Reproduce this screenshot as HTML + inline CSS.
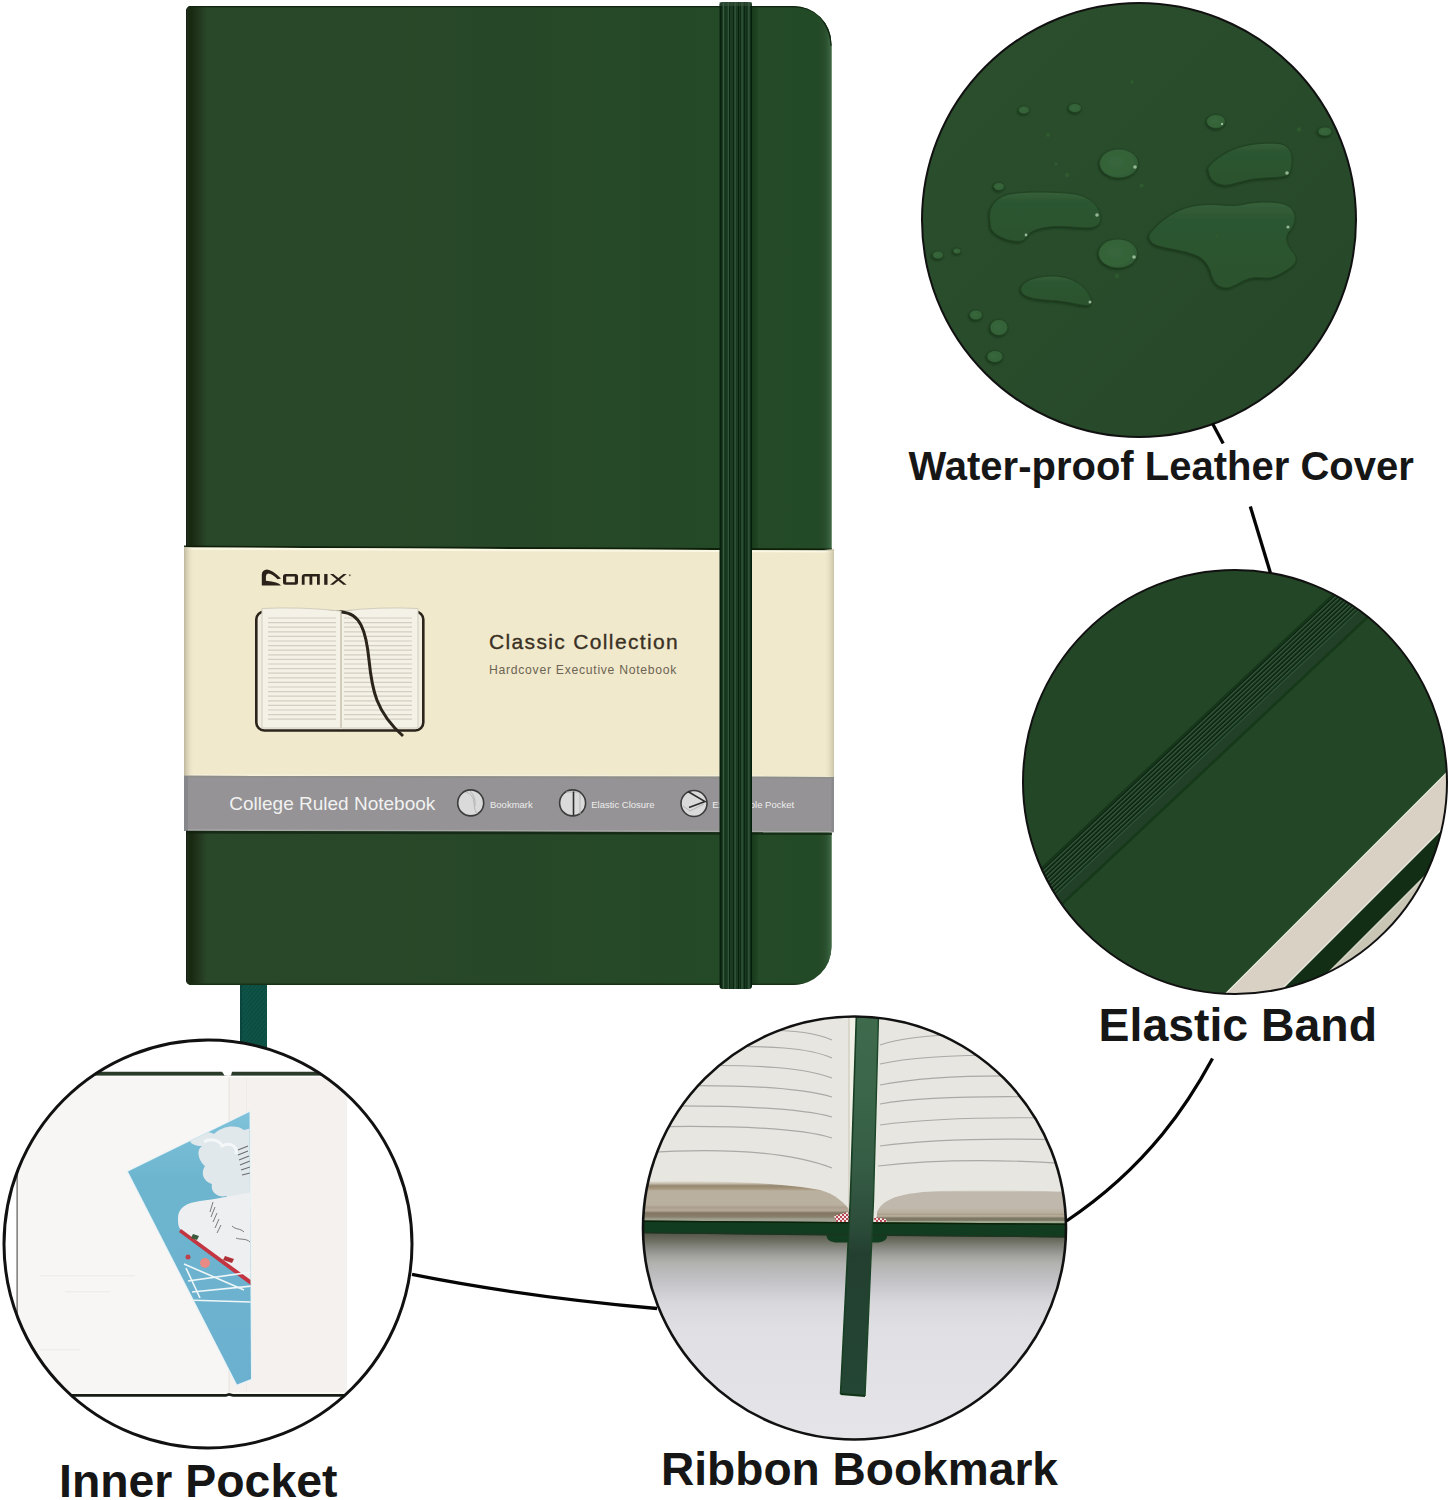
<!DOCTYPE html>
<html><head><meta charset="utf-8">
<style>
html,body{margin:0;padding:0;background:#fff;}
body{width:1452px;height:1500px;overflow:hidden;position:relative;font-family:"Liberation Sans",sans-serif;}
svg{position:absolute;left:0;top:0;}
.lbl{position:absolute;font-family:"Liberation Sans",sans-serif;font-weight:bold;color:#161616;white-space:nowrap;line-height:1;}
</style></head>
<body>
<svg width="1452" height="1500" viewBox="0 0 1452 1500" font-family="Liberation Sans, sans-serif">
<defs>
  <linearGradient id="spine" x1="186" x2="209" y1="0" y2="0" gradientUnits="userSpaceOnUse">
    <stop offset="0" stop-color="#0d180a"/>
    <stop offset="0.06" stop-color="#222d1e"/>
    <stop offset="0.14" stop-color="#1a2b13"/>
    <stop offset="0.22" stop-color="#172a10"/>
    <stop offset="0.4" stop-color="#1f2f18"/>
    <stop offset="0.7" stop-color="#253d23"/>
    <stop offset="1" stop-color="#294729" stop-opacity="0"/>
  </linearGradient>
  <linearGradient id="rEdge" x1="818" x2="832" y1="0" y2="0" gradientUnits="userSpaceOnUse">
    <stop offset="0" stop-color="#284728" stop-opacity="0"/>
    <stop offset="0.6" stop-color="#2e5534"/>
    <stop offset="1" stop-color="#4a7550"/>
  </linearGradient>
  <linearGradient id="band" x1="719.5" x2="752" y1="0" y2="0" gradientUnits="userSpaceOnUse">
    <stop offset="0.0000" stop-color="#0c2412"/>
    <stop offset="0.0462" stop-color="#061c0c"/>
    <stop offset="0.0831" stop-color="#18371f"/>
    <stop offset="0.0862" stop-color="#1a3b22"/>
    <stop offset="0.0985" stop-color="#1a3b22"/>
    <stop offset="0.1262" stop-color="#3d6246"/>
    <stop offset="0.1538" stop-color="#1a3b22"/>
    <stop offset="0.1815" stop-color="#1a3b22"/>
    <stop offset="0.2000" stop-color="#06200c"/>
    <stop offset="0.2185" stop-color="#1a3b22"/>
    <stop offset="0.2431" stop-color="#1a3b22"/>
    <stop offset="0.2708" stop-color="#3d6246"/>
    <stop offset="0.2923" stop-color="#1a3b22"/>
    <stop offset="0.2985" stop-color="#1a3b22"/>
    <stop offset="0.3108" stop-color="#06200c"/>
    <stop offset="0.3292" stop-color="#1a3b22"/>
    <stop offset="0.4092" stop-color="#1a3b22"/>
    <stop offset="0.4277" stop-color="#06200c"/>
    <stop offset="0.4462" stop-color="#1a3b22"/>
    <stop offset="0.4523" stop-color="#1a3b22"/>
    <stop offset="0.4800" stop-color="#3d6246"/>
    <stop offset="0.5077" stop-color="#1a3b22"/>
    <stop offset="0.5662" stop-color="#1a3b22"/>
    <stop offset="0.5846" stop-color="#06200c"/>
    <stop offset="0.6031" stop-color="#1a3b22"/>
    <stop offset="0.6215" stop-color="#1a3b22"/>
    <stop offset="0.6400" stop-color="#06200c"/>
    <stop offset="0.6585" stop-color="#1a3b22"/>
    <stop offset="0.6646" stop-color="#1a3b22"/>
    <stop offset="0.6923" stop-color="#3d6246"/>
    <stop offset="0.7200" stop-color="#1a3b22"/>
    <stop offset="0.7538" stop-color="#1a3b22"/>
    <stop offset="0.7723" stop-color="#06200c"/>
    <stop offset="0.7908" stop-color="#1a3b22"/>
    <stop offset="0.8215" stop-color="#1a3b22"/>
    <stop offset="0.8400" stop-color="#06200c"/>
    <stop offset="0.8585" stop-color="#1a3b22"/>
    <stop offset="0.8769" stop-color="#1a3b22"/>
    <stop offset="0.9046" stop-color="#3d6246"/>
    <stop offset="0.9323" stop-color="#1a3b22"/>
    <stop offset="0.9446" stop-color="#1a3b22"/>
    <stop offset="0.9631" stop-color="#06200c"/>
    <stop offset="0.9815" stop-color="#1a3b22"/>
    <stop offset="0.9846" stop-color="#071d0c"/>
    <stop offset="1.0000" stop-color="#071d0c"/>
  </linearGradient>
  <linearGradient id="bandSh" x1="751" x2="760" y1="0" y2="0" gradientUnits="userSpaceOnUse">
    <stop offset="0" stop-color="#0c2a10" stop-opacity="0.9"/>
    <stop offset="1" stop-color="#0c2a10" stop-opacity="0"/>
  </linearGradient>
  <linearGradient id="creamL" x1="184" x2="194" y1="0" y2="0" gradientUnits="userSpaceOnUse">
    <stop offset="0" stop-color="#bdb69c"/>
    <stop offset="1" stop-color="#efe7cc" stop-opacity="0"/>
  </linearGradient>
  <linearGradient id="creamR" x1="824" x2="834" y1="0" y2="0" gradientUnits="userSpaceOnUse">
    <stop offset="0" stop-color="#efe7cc" stop-opacity="0"/>
    <stop offset="1" stop-color="#c9c2a6"/>
  </linearGradient>
  <pattern id="teal" width="3" height="3" patternUnits="userSpaceOnUse" patternTransform="rotate(40)">
    <rect width="3" height="3" fill="#0f5649"/>
    <rect width="1.5" height="3" fill="#0b4a3f"/>
  </pattern>
  <radialGradient id="dropG" cx="0.42" cy="0.45" r="0.6">
    <stop offset="0" stop-color="#38663b"/>
    <stop offset="0.75" stop-color="#346238"/>
    <stop offset="1" stop-color="#2e5a32"/>
  </radialGradient>
  <linearGradient id="dropB" x1="0" x2="0" y1="0" y2="1">
    <stop offset="0" stop-color="#36603a"/>
    <stop offset="0.2" stop-color="#2c5630"/>
    <stop offset="1" stop-color="#29522d"/>
  </linearGradient>
  <filter id="dsh" x="-20%" y="-20%" width="140%" height="140%">
    <feDropShadow dx="-0.8" dy="1.2" stdDeviation="1.2" flood-color="#112611" flood-opacity="0.75"/>
  </filter>
  <linearGradient id="c1bg" x1="960" y1="40" x2="1320" y2="400" gradientUnits="userSpaceOnUse">
    <stop offset="0" stop-color="#2b4f2d"/>
    <stop offset="1" stop-color="#264829"/>
  </linearGradient>
  <linearGradient id="nbg" x1="210" x2="810" y1="0" y2="0" gradientUnits="userSpaceOnUse">
    <stop offset="0" stop-color="#294729"/>
    <stop offset="0.5" stop-color="#274828"/>
    <stop offset="1" stop-color="#234a26"/>
  </linearGradient>
  <clipPath id="c1"><circle cx="1139" cy="220" r="217"/></clipPath>
  <clipPath id="c2"><circle cx="1235" cy="782" r="212"/></clipPath>
  <clipPath id="c3"><circle cx="208" cy="1244" r="204"/></clipPath>
  <clipPath id="c4"><circle cx="854.5" cy="1228" r="211.5"/></clipPath>
</defs>

<!-- ribbon below notebook -->
<rect x="240" y="975" width="27" height="75" fill="url(#teal)"/>
<rect x="240" y="975" width="2" height="75" fill="#0a463e"/>

<!-- notebook -->
<clipPath id="nbc"><path d="M191 6 H793 A38 38 0 0 1 831.5 44 V947 A38 38 0 0 1 793 985 H191 A5 5 0 0 1 186 980 V11 A5 5 0 0 1 191 6 Z"/></clipPath>
<g clip-path="url(#nbc)">
<rect x="186" y="6" width="646" height="979" fill="url(#nbg)"/>
<rect x="186" y="6" width="23" height="979" fill="url(#spine)"/>
<rect x="818" y="6" width="14" height="979" fill="url(#rEdge)" opacity="0.8"/>
<path d="M186 6.6 H791 C806 6.6 818 12 824 22 C829 30 831 38 831.2 46" fill="none" stroke="#132511" stroke-width="1.5"/>
<rect x="186" y="983.5" width="646" height="1.5" fill="#1a3118"/>
<rect x="752" y="6" width="6" height="979" fill="url(#bandSh)" opacity="0.6"/>
</g>
<!-- belly band -->
<path d="M184 545.6 L832 548.6 L832 550.6 L184 547.6 Z" fill="#0c1c08" opacity="0.9"/>
<path d="M184 547.5 L834 550.5 L834 777 L184 775.8 Z" fill="#f1e9cc"/>
<path d="M184 547.5 L834 550.5 L834 552.6 L184 549.7 Z" fill="#faf7e4"/>
<path d="M184 774 L834 775.3 L834 777 L184 775.8 Z" fill="#f4efda"/>
<rect x="184" y="547" width="10" height="230" fill="url(#creamL)"/>
<rect x="824" y="549" width="10" height="229" fill="url(#creamR)"/>
<path d="M184 775.8 L834 777 L834 832.3 L184 830.8 Z" fill="#959395"/>
<path d="M184 775.8 L834 777 L834 778.6 L184 777.4 Z" fill="#8e8e8a"/>
<path d="M184 829.3 L834 830.8 L834 832.3 L184 830.8 Z" fill="#a7a9a7"/>
<rect x="184" y="776" width="4" height="55" fill="#86878a"/>
<rect x="831.5" y="777" width="2.5" height="55" fill="#8a8a8c"/>
<path d="M186 830.8 L832 832.3 L832 835 L186 833.5 Z" fill="#0f200e" opacity="0.7"/>

<!-- Comix logo -->
<g fill="#2a2219">
  <path d="M261.8 585.4 V574.5 Q262 570 267 569.6 Q272 569.8 281 578.6 L277.6 579.2 Q272 573.8 268.5 573.6 Q266 573.8 265.9 576.5 V580.8 Q272 581.6 276 582.4 Q279.6 583.2 281 585.4 Z"/>
  <path fill-rule="evenodd" d="M285.5 574 H295.5 Q298 574 298 576.5 V582.3 Q298 584.8 295.5 584.8 H285.5 Q283 584.8 283 582.3 V576.5 Q283 574 285.5 574 Z M286.2 576.6 V582.2 H294.8 V576.6 Z"/>
  <path d="M301.8 584.8 V577 Q301.8 574 305 574 H319.8 V584.8 H317 V576.6 H312.3 V584.8 H309.5 V576.6 H304.6 V584.8 Z"/>
  <rect x="324.2" y="574" width="3.3" height="10.8"/>
  <path d="M330 574 H333.3 L346.7 584.8 H343.4 Z M343.4 574 H346.7 L333.3 584.8 H330 Z"/>
  <circle cx="349.8" cy="575.3" r="1" opacity="0.6"/>
</g>

<!-- notebook drawing -->
<g>
  <rect x="256.3" y="611.5" width="167" height="119" rx="8" fill="#f1ede0" stroke="#2b241b" stroke-width="2.6"/>
  <path d="M262 608.5 Q300 606.5 340.5 611 V728 H262 Z" fill="#f4f1e7" stroke="#d2cdbd" stroke-width="1"/>
  <path d="M341.5 611 Q380 606.5 418 608.5 V728 H341.5 Z" fill="#f4f1e7" stroke="#d2cdbd" stroke-width="1"/>
  <g stroke="#d2cec0" stroke-width="1.2" fill="none" id="rl">
    <path d="M268 618 H336 M268 622.6 H336 M268 627.2 H336 M268 631.8 H336 M268 636.4 H336 M268 641 H336 M268 645.6 H336 M268 650.2 H336 M268 654.8 H336 M268 659.4 H336 M268 664 H336 M268 668.6 H336 M268 673.2 H336 M268 677.8 H336 M268 682.4 H336 M268 687 H336 M268 691.6 H336 M268 696.2 H336 M268 700.8 H336 M268 705.4 H336 M268 710 H336 M268 714.6 H336 M268 719.2 H336"/>
    <path d="M344 618 H412 M344 622.6 H412 M344 627.2 H412 M344 631.8 H412 M344 636.4 H412 M344 641 H412 M344 645.6 H412 M344 650.2 H412 M344 654.8 H412 M344 659.4 H412 M344 664 H412 M344 668.6 H412 M344 673.2 H412 M344 677.8 H412 M344 682.4 H412 M344 687 H412 M344 691.6 H412 M344 696.2 H412 M344 700.8 H412 M344 705.4 H412 M344 710 H412 M344 714.6 H412 M344 719.2 H412"/>
  </g>
  <path d="M341.5 612 C360 613 366 630 369 660 C372 690 376 712 403 736" fill="none" stroke="#2b241b" stroke-width="3"/>
</g>

<!-- titles -->
<text x="489" y="648.6" font-size="21" fill="#3a3124" stroke="#3a3124" stroke-width="0.35" letter-spacing="1.35">Classic Collection</text>
<text x="489" y="673.8" font-size="12.2" fill="#6c6454" letter-spacing="0.72">Hardcover Executive Notebook</text>
<text x="229.3" y="810" font-size="19" fill="#f1f1f1">College Ruled Notebook</text>

<!-- icons -->
<g stroke="#3c3c3c" stroke-width="1.6" fill="#dadada">
  <circle cx="470.7" cy="802.9" r="13"/>
  <circle cx="572.6" cy="802.9" r="13"/>
  <circle cx="694" cy="803.5" r="13"/>
</g>
<g fill="none" stroke="#b5b5b5" stroke-width="1">
  <path d="M466 792 Q474 795 474 803 Q474 810 477 814"/>
  <path d="M470 791 Q476 797 475 806"/>
  <path d="M566 792 H577 Q580 792 580 795 V814"/>
  <path d="M683 806 L690 811 L704 804"/>
</g>
<g fill="none" stroke="#2e2e2e" stroke-width="1.6">
  <path d="M573.5 791.5 V815"/>
  <path d="M688 791.5 L705 801.5 L689 807.5"/>
</g>
<g font-size="9.5" fill="#ededed">
  <text x="490" y="807.7">Bookmark</text>
  <text x="591.2" y="807.7">Elastic Closure</text>
  <text x="712.3" y="807.7">Expandable Pocket</text>
</g>

<!-- elastic band -->
<rect x="719.5" y="2" width="32.5" height="987" rx="3" fill="url(#band)"/>
<rect x="719.5" y="2" width="32.5" height="4" fill="#3d5a44" opacity="0.5"/>
<!-- circle 1: water-proof -->
<g clip-path="url(#c1)">
  <rect x="900" y="0" width="480" height="460" fill="url(#c1bg)"/>
  <g fill="url(#dropB)" stroke="#1f401f" stroke-width="0.8" filter="url(#dsh)">
    <path d="M989.6 216 C989 205 999 196 1010 194 C1025 191.5 1050 191.5 1072 193.6 C1088 195.5 1100 205 1100.8 217.6 C1101 223 1098 226 1093 227.5 C1085 229 1072 226.5 1060 226.5 C1045 226.5 1036 229 1030 233 C1027 236 1026 240 1020 241.5 C1008 242 995 236 991 229 C990 225 989.8 220 989.6 216 Z"/>
    <path d="M1020.8 288 C1024 280 1035 277 1050 276 C1064 275.5 1080 280 1088 292.8 C1091 298 1093 303 1089 305.5 C1080 306 1070 302 1056 300.8 C1042 300 1030 299 1024 295 C1021.5 293 1020.5 290.5 1020.8 288 Z"/>
    <path d="M1208 168 C1212 162 1222 154 1234 149.2 C1246 144.5 1262 142.5 1277 143.4 C1287 144 1291.5 150 1292 158 C1292.3 166 1291 172 1288 175.2 C1282 178 1268 177.5 1255.7 178.8 C1245 180 1236 184 1226.8 185.3 C1218 185.5 1211 181 1209.4 175.2 C1208.5 172 1208 170 1208 168 Z"/>
    <path d="M1149.4 234.5 C1155 226 1168 215 1180.5 209.9 C1192 205 1205 204 1219.5 204.9 C1228 205.5 1235 206.5 1245 204 C1258 201.5 1272 201.5 1282 203.5 C1291 206 1295 211 1295 218 C1295 224 1292 229 1289 232 C1285 237 1286 243 1292 251 C1297 256 1298 262 1292 266.5 C1286 271 1278 276 1270.2 277.9 C1262 278.5 1255 276.5 1248 279 C1240 282 1232 288 1226.8 288 C1218 288 1213 283 1210.5 272 C1208 264 1203 258 1195 255 C1185 251 1170 249 1160 246.5 C1152 244.5 1147.5 240 1149.4 234.5 Z"/>
  </g>
  <g fill="url(#dropG)" stroke="#1f401f" stroke-width="0.7" filter="url(#dsh)">
    <ellipse cx="1119" cy="163.5" rx="19.5" ry="14.5"/>
    <ellipse cx="1118" cy="253.5" rx="19.5" ry="14.5"/>
    <ellipse cx="1216" cy="121.5" rx="9.5" ry="7"/>
    <ellipse cx="1325" cy="131.5" rx="7" ry="4.5"/>
    <ellipse cx="1024" cy="110" rx="5.5" ry="4"/>
    <ellipse cx="1075" cy="108" rx="6.5" ry="4.5"/>
    <ellipse cx="999" cy="186.5" rx="5.5" ry="4"/>
    <ellipse cx="938" cy="255" rx="5.5" ry="4"/>
    <ellipse cx="957" cy="251" rx="4" ry="3"/>
    <ellipse cx="976" cy="315" rx="6.5" ry="5"/>
    <ellipse cx="999" cy="327.5" rx="9" ry="8"/>
    <ellipse cx="995" cy="356.5" rx="8" ry="6"/>
  </g>
  <g fill="#2f5a30">
    <circle cx="1132" cy="82" r="1.8"/>
    <circle cx="1048" cy="135" r="2"/>
    <circle cx="1299" cy="129.5" r="2.2"/>
    <circle cx="1141.5" cy="185.5" r="2"/>
    <circle cx="1067" cy="175" r="2.2"/>
    <circle cx="1056" cy="164" r="1.8"/>
    <circle cx="1117" cy="276" r="2.2"/>
    <circle cx="1217" cy="236" r="1.5"/>
  </g>
  <g fill="#a9c8a8" opacity="0.85">
    <circle cx="1097" cy="215" r="1.8"/>
    <circle cx="1026" cy="235" r="1.4"/>
    <circle cx="1135" cy="167" r="1.8"/>
    <circle cx="1134" cy="257" r="1.8"/>
    <circle cx="1287" cy="173" r="1.8"/>
    <circle cx="1288" cy="227" r="1.6"/>
    <circle cx="1090" cy="302" r="1.5"/>
    <circle cx="1222" cy="124" r="1.2"/>
  </g>
</g>
<circle cx="1139" cy="220" r="217" fill="none" stroke="#111" stroke-width="2"/>
<!-- circle 2: elastic band -->
<g clip-path="url(#c2)">
  <rect x="1000" y="560" width="460" height="440" fill="#234726"/>
  <!-- page edges (lower right) -->
  <path d="M1000 1218.4 L1460 758.4 L1460 1100 L1000 1100 Z" fill="#eef0e2"/>
  <path d="M1002 1218 L1462 758 L1462 1100 L1002 1100 Z" fill="#d9d2c4"/>
  <path d="M1030 1240 L1490 780 L1490 1100 L1030 1100 Z" fill="#e8eadc"/>
  <path d="M1032 1240 L1492 780 L1492 1100 L1032 1100 Z" fill="#122e15"/>
  <path d="M1060 1240 L1520 780 L1520 1100 L1060 1100 Z" fill="#d6d6c8"/>
  <path d="M1062 1240 L1522 780 L1522 1100 L1062 1100 Z" fill="#c9c6b6"/>
  <!-- elastic band -->
  <g transform="translate(1290 663) rotate(-43.2)">
    <rect x="-400" y="-20.5" width="800" height="41" fill="#1e3c23"/>
    <rect x="-400" y="-21.5" width="800" height="2" fill="#143518" opacity="0.8"/>
    <rect x="-400" y="-19.00" width="800" height="1.3" fill="#0b230f"/>
    <rect x="-400" y="-17.80" width="800" height="1.1" fill="#36583c"/>
    <rect x="-400" y="-15.75" width="800" height="1.3" fill="#0b230f"/>
    <rect x="-400" y="-14.55" width="800" height="1.1" fill="#36583c"/>
    <rect x="-400" y="-12.50" width="800" height="1.3" fill="#0b230f"/>
    <rect x="-400" y="-11.30" width="800" height="1.1" fill="#36583c"/>
    <rect x="-400" y="-9.25" width="800" height="1.3" fill="#0b230f"/>
    <rect x="-400" y="-8.05" width="800" height="1.1" fill="#36583c"/>
    <rect x="-400" y="-6.00" width="800" height="1.3" fill="#0b230f"/>
    <rect x="-400" y="-4.80" width="800" height="1.1" fill="#36583c"/>
    <rect x="-400" y="-2.75" width="800" height="1.3" fill="#0b230f"/>
    <rect x="-400" y="-1.55" width="800" height="1.1" fill="#36583c"/>
    <rect x="-400" y="0.50" width="800" height="1.3" fill="#0b230f"/>
    <rect x="-400" y="1.70" width="800" height="1.1" fill="#36583c"/>
    <rect x="-400" y="3.75" width="800" height="1.3" fill="#0b230f"/>
    <rect x="-400" y="4.95" width="800" height="1.1" fill="#36583c"/>
    <rect x="-400" y="7" width="800" height="1.2" fill="#12321a"/>
    <rect x="-400" y="8.4" width="800" height="1.2" fill="#33553a"/>
    <rect x="-400" y="9.6" width="800" height="9" fill="#223f27"/>
    <rect x="-400" y="18.5" width="800" height="2.5" fill="#153a18" opacity="0.9"/>
  </g>
</g>
<circle cx="1235" cy="782" r="212" fill="none" stroke="#111" stroke-width="2"/>
<!-- circle 4: ribbon bookmark -->
<defs>
  <linearGradient id="floor" x1="0" x2="0" y1="1234" y2="1440" gradientUnits="userSpaceOnUse">
    <stop offset="0" stop-color="#56584a"/>
    <stop offset="0.029" stop-color="#6a6b5e"/>
    <stop offset="0.049" stop-color="#7a7b70"/>
    <stop offset="0.078" stop-color="#8e8f8a"/>
    <stop offset="0.107" stop-color="#a2a39e"/>
    <stop offset="0.146" stop-color="#b3b3b1"/>
    <stop offset="0.194" stop-color="#bcbcbe"/>
    <stop offset="0.243" stop-color="#c5c5ca"/>
    <stop offset="0.291" stop-color="#cfcfd4"/>
    <stop offset="0.340" stop-color="#d8d8dd"/>
    <stop offset="0.466" stop-color="#e0e0e4"/>
    <stop offset="1" stop-color="#e5e5e9"/>
  </linearGradient>
  <linearGradient id="stackL" x1="0" x2="0" y1="1181" y2="1221" gradientUnits="userSpaceOnUse">
    <stop offset="0" stop-color="#e4e0d6"/>
    <stop offset="0.06" stop-color="#c8c0b0"/>
    <stop offset="0.12" stop-color="#958670"/>
    <stop offset="0.2" stop-color="#a8987f"/>
    <stop offset="0.25" stop-color="#bab0a0"/>
    <stop offset="0.6" stop-color="#bab0a0"/>
    <stop offset="0.66" stop-color="#ab9f8e"/>
    <stop offset="0.74" stop-color="#b5a898"/>
    <stop offset="0.8" stop-color="#807560"/>
    <stop offset="0.9" stop-color="#8a806e"/>
    <stop offset="0.95" stop-color="#a0a090"/>
    <stop offset="1" stop-color="#a0a090"/>
  </linearGradient>
  <linearGradient id="stackR" x1="0" x2="0" y1="1190" y2="1223" gradientUnits="userSpaceOnUse">
    <stop offset="0" stop-color="#e8e6e1"/>
    <stop offset="0.06" stop-color="#c0b8ad"/>
    <stop offset="0.55" stop-color="#c0b8ac"/>
    <stop offset="0.7" stop-color="#b8ae9c"/>
    <stop offset="0.74" stop-color="#a89e8a"/>
    <stop offset="0.79" stop-color="#bcb29e"/>
    <stop offset="0.85" stop-color="#7d7764"/>
    <stop offset="0.92" stop-color="#7d7764"/>
    <stop offset="0.95" stop-color="#a0a890"/>
    <stop offset="1" stop-color="#a0a890"/>
  </linearGradient>
  <linearGradient id="rib" x1="0" x2="0" y1="1012" y2="1396" gradientUnits="userSpaceOnUse">
    <stop offset="0" stop-color="#3f6a4c"/>
    <stop offset="0.23" stop-color="#3a6548"/>
    <stop offset="0.4" stop-color="#355c45"/>
    <stop offset="0.56" stop-color="#2c4c3a"/>
    <stop offset="0.63" stop-color="#233f30"/>
    <stop offset="1" stop-color="#244634"/>
  </linearGradient>
  <pattern id="chk" width="4" height="4" patternUnits="userSpaceOnUse">
    <rect width="4" height="4" fill="#f2e6e6"/>
    <rect width="2" height="2" fill="#b84a55"/>
    <rect x="2" y="2" width="2" height="2" fill="#b84a55"/>
  </pattern>
</defs>
<g clip-path="url(#c4)">
  <rect x="640" y="1010" width="440" height="440" fill="url(#floor)"/>
  <!-- pages -->
  <path d="M640 1010 H851 V1215 H640 Z" fill="#e7e6e0"/>
  <path d="M854 1010 H1070 V1222 H854 Z" fill="#e7e6e0"/>
  <!-- page stack left -->
  <path d="M640 1182 C700 1180 780 1182 820 1190 C835 1194 845 1203 851 1212 L851 1222 L640 1221 Z" fill="url(#stackL)"/>
  <!-- page stack right -->
  <path d="M877 1212 C884 1198 900 1191 960 1190.5 C1010 1190 1050 1191 1070 1192 V1224 L877 1223 Z" fill="url(#stackR)"/>
  <!-- ruled lines left page -->
  <g fill="none" stroke="#a9a9a7" stroke-width="1.2">
    <path d="M760 1030 C790 1030 815 1032 832 1040"/>
    <path d="M700 1047 C770 1045 810 1048 832 1058"/>
    <path d="M680 1066 C760 1064 805 1068 832 1078"/>
    <path d="M660 1086 C750 1084 800 1088 832 1097"/>
    <path d="M645 1106 C740 1105 800 1108 832 1117"/>
    <path d="M640 1127 C730 1125 800 1128 832 1138"/>
    <path d="M640 1153 C700 1149 780 1148 832 1168"/>
  </g>
  <!-- ruled lines right page -->
  <g fill="none" stroke="#a9a9a7" stroke-width="1.2">
    <path d="M880 1045 C900 1038 930 1035 970 1034"/>
    <path d="M880 1064 C910 1057 960 1055 1010 1055"/>
    <path d="M880 1085 C920 1077 970 1075 1030 1076"/>
    <path d="M880 1104 C920 1097 980 1096 1045 1097"/>
    <path d="M880 1125 C930 1118 990 1117 1060 1118"/>
    <path d="M880 1146 C930 1139 1000 1138 1070 1140"/>
    <path d="M878 1166 C930 1160 1000 1159 1070 1164"/>
  </g>
  <!-- spine -->
  <rect x="849.5" y="1010" width="6" height="205" fill="#f0f0e6"/>
  <rect x="848.5" y="1010" width="1" height="205" fill="#c9c3b4"/>
  <!-- headbands -->
  <path d="M834 1216 L848 1212 L852 1224 L838 1226 Z" fill="url(#chk)"/>
  <path d="M874 1217 L886 1219 L889 1229 L875 1228 Z" fill="url(#chk)"/>
  <!-- cover edge -->
  <path d="M640 1220.6 L1070 1223.5 V1237.5 L887 1236 C887 1240 883 1242.5 876 1242.5 H838 C831 1242.5 826.5 1240 826.5 1235.5 L640 1233.2 Z" fill="#123c20"/>
  <path d="M640 1220.6 L1070 1223.5 V1225 L640 1222 Z" fill="#0c2208"/>
  <path d="M640 1232 L1070 1236 V1237.5 L640 1233.2 Z" fill="#1e3420"/>
  <!-- ribbon -->
  <path d="M856.5 1012 H878.6 L873.5 1200 L865 1396 L840.5 1394 L850.3 1200 Z" fill="url(#rib)"/>
  <path d="M856.5 1012 L850.3 1200 L840.5 1394" fill="none" stroke="#173e22" stroke-width="1.6"/>
  <path d="M878.6 1012 L873.5 1200 L865 1396" fill="none" stroke="#1b4526" stroke-width="1.4"/>
  <path d="M840.5 1394 L865 1396" fill="none" stroke="#0f3314" stroke-width="2"/>
</g>
<circle cx="854.5" cy="1228" r="211.5" fill="none" stroke="#111" stroke-width="2.6"/>
<!-- circle 3: inner pocket -->
<defs>
  <linearGradient id="sky" x1="0" x2="0" y1="1110" y2="1385" gradientUnits="userSpaceOnUse">
    <stop offset="0" stop-color="#80c2da"/>
    <stop offset="0.25" stop-color="#6db5cf"/>
    <stop offset="1" stop-color="#6cb0cf"/>
  </linearGradient>
  <clipPath id="card"><path d="M128 1171.6 L249.5 1112 L251 1379 L237 1384.5 Z"/></clipPath>
</defs>
<g clip-path="url(#c3)">
  <rect x="0" y="1030" width="420" height="430" fill="#ffffff"/>
  <rect x="17" y="1075" width="330" height="320" fill="#f7f6f4"/>
  <rect x="229" y="1075" width="118" height="320" fill="#f5f1ee"/>
  <rect x="16.5" y="1075" width="1.2" height="320" fill="#5a5a58"/>
  <rect x="228.5" y="1076" width="1.2" height="318" fill="#e9e6e2"/>
  <rect x="246" y="1076" width="1" height="318" fill="#efece8"/>
  <!-- top/bottom cover edges -->
  <path d="M17 1071.8 H222 L225 1076 L231 1075.5 L232 1071.8 H345 V1075.8 H17 Z" fill="#2b3b29"/>
  <rect x="17" y="1075.8" width="330" height="1.6" fill="#fbfbf9"/>
  <rect x="224" y="1072.5" width="6" height="2.5" fill="#fff"/>
  <rect x="17" y="1392.3" width="330" height="1.8" fill="#fbfbf6"/>
  <path d="M17 1394 H226 L229 1393 L233 1394 H347 V1396.8 H233 L229 1395.8 L226 1396.8 H17 Z" fill="#171d15"/>
  <!-- faint text on page -->
  <g fill="#efedea">
    <rect x="40" y="1275" width="95" height="1.5"/>
    <rect x="65" y="1291" width="45" height="1.5"/>
    <rect x="40" y="1349" width="40" height="1.5"/>
  </g>
  <!-- card -->
  <path d="M126.5 1171 L250.5 1110.5 L252 1380 L236.5 1386 Z" fill="#e6f2f6"/>
  <g clip-path="url(#card)">
    <rect x="120" y="1105" width="140" height="290" fill="url(#sky)"/>
    <!-- clouds -->
    <path d="M190 1140 C196 1132 206 1130 214 1134 C222 1126 236 1124 244 1130 L252 1128 L252 1200 C244 1204 232 1202 226 1196 C218 1198 210 1192 212 1184 C204 1182 200 1174 205 1166 C198 1160 196 1150 202 1146 C196 1146 190 1144 190 1140 Z" fill="#e1e8ec"/>
    <path d="M204 1142 C210 1138 220 1140 222 1146 C230 1142 238 1146 236 1154" fill="none" stroke="#f4f7f8" stroke-width="3"/>
    <!-- engine hatching -->
    <g stroke="#6c6c6c" stroke-width="1.1" fill="none">
      <path d="M238 1150 L248 1146 M238 1155 L248 1151 M239 1160 L249 1156 M240 1165 L250 1161 M241 1170 L250 1167 M242 1175 L250 1173"/>
    </g>
    <ellipse cx="240" cy="1204" rx="13" ry="7" fill="#cfd3d6"/>
    <!-- wing -->
    <path d="M178 1218 C178 1208 186 1203 200 1201 C215 1199 232 1196 252 1192 L252 1284 L181 1230 C178 1227 178 1222 178 1218 Z" fill="#eeeff0"/>
    <g stroke="#7a7a7a" stroke-width="1" fill="none">
      <path d="M213 1202 L210 1212 M215 1207 L211 1217 M217 1213 L213 1222 M219 1219 L215 1228 M221 1225 L217 1233"/>
      <path d="M232 1226 C236 1230 240 1228 244 1232 M236 1238 C240 1240 246 1238 250 1242"/>
    </g>
    <!-- red stripe -->
    <path d="M181 1229 L252 1281 L252 1286 L179 1232 Z" fill="#c23541"/>
    <path d="M225 1256 L234 1259 L232 1263 L223 1260 Z" fill="#b0303a"/>
    <path d="M193 1234 L199 1236 L197 1240 L191 1238 Z" fill="#3c5a3c"/>
    <!-- little pink figure -->
    <circle cx="205" cy="1263" r="5" fill="#e98a84"/>
    <circle cx="188" cy="1257" r="2.5" fill="#c0404c"/>
    <!-- white lines -->
    <g stroke="#eef6f8" stroke-width="1.6" fill="none">
      <path d="M184 1264 L244 1290"/>
      <path d="M188 1281 L252 1272"/>
      <path d="M192 1292 L252 1286"/>
      <path d="M186 1268 L200 1298"/>
      <path d="M186 1300 L252 1302"/>
    </g>
  </g>
</g>
<circle cx="208" cy="1244" r="204" fill="none" stroke="#111" stroke-width="3"/>
<!-- connector lines -->
<g fill="none" stroke="#050505" stroke-width="3.3" stroke-linecap="butt">
  <path d="M1212.5 423.5 L1223.2 443.5"/>
  <path d="M1250.3 506.5 C1256 525 1263 548 1270.3 572.5"/>
  <path d="M1212.5 1058.5 C1190 1100 1150 1165 1066.5 1221"/>
  <path d="M412 1274.4 C480 1288 560 1300 657 1308.5"/>
</g>
</svg>
<div class="lbl" style="left:908.5px;top:446px;font-size:40px;">Water-proof Leather Cover</div>
<div class="lbl" style="left:1098.6px;top:1002.4px;font-size:46.4px;">Elastic Band</div>
<div class="lbl" style="left:59px;top:1457.6px;font-size:46.4px;">Inner Pocket</div>
<div class="lbl" style="left:661px;top:1445.7px;font-size:46.1px;">Ribbon Bookmark</div>
</body></html>
